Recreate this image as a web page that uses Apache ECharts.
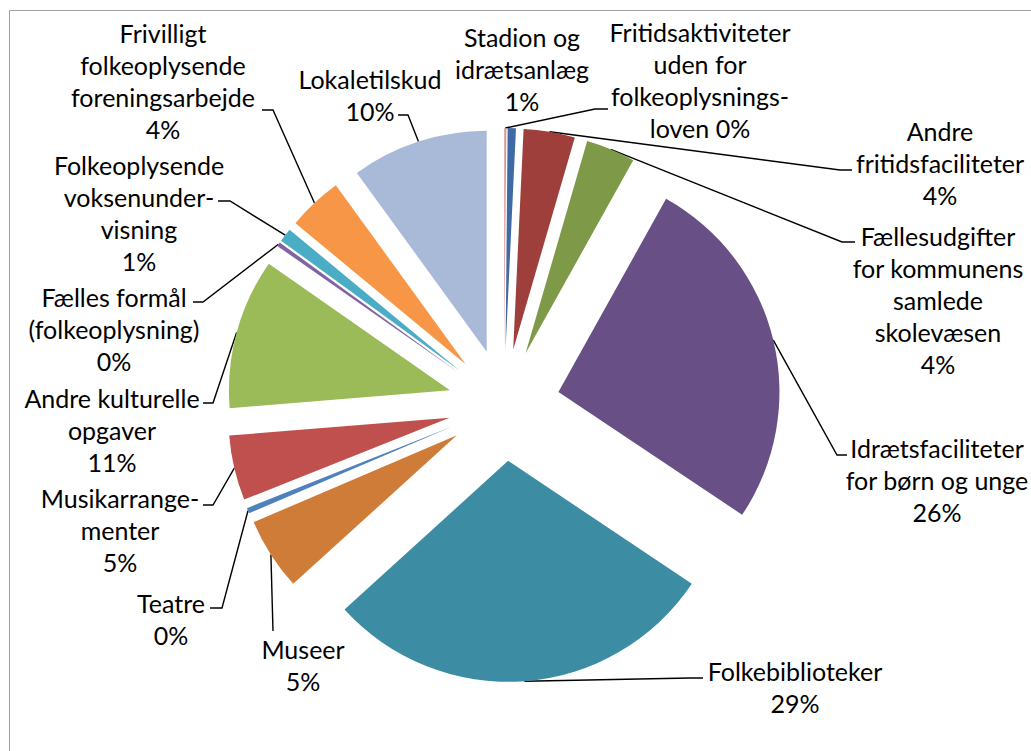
<!DOCTYPE html>
<html>
<head>
<meta charset="utf-8">
<title>Fordeling af udgifter</title>
<script src="https://cdn.jsdelivr.net/npm/echarts@6/dist/echarts.min.js"></script>
<style>
  html, body { margin: 0; padding: 0; background: #fff; }
  #chart { width: 1031px; height: 751px; }
</style>
</head>
<body>
<div id="chart"></div>
<script>
// kategorier i urets retning fra kl. 12
const categories = [
  'Fritidsaktiviteter uden for folkeoplysningsloven',
  'Stadion og idrætsanlæg',
  'Andre fritidsfaciliteter',
  'Fællesudgifter for kommunens samlede skolevæsen',
  'Idrætsfaciliteter for børn og unge',
  'Folkebiblioteker',
  'Museer',
  'Teatre',
  'Musikarrangementer',
  'Andre kulturelle opgaver',
  'Fælles formål (folkeoplysning)',
  'Folkeoplysende voksenundervisning',
  'Frivilligt folkeoplysende foreningsarbejde',
  'Lokaletilskud'
];
// andel i procent, aflæst af figuren
const values = [0.15, 0.6, 3.75, 3.6, 26.3, 28.9, 5.3, 0.4, 4.75, 11.0, 0.3, 1.0, 4.0, 10.0];
// etiketter med linjeskift som i originalen, {p} = procent
const labelTexts = [
  'Fritidsaktiviteter\nuden for\nfolkeoplysnings-\nloven {p}',
  'Stadion og\nidrætsanlæg\n{p}',
  'Andre\nfritidsfaciliteter\n{p}',
  'Fællesudgifter\nfor kommunens\nsamlede\nskolevæsen\n{p}',
  'Idrætsfaciliteter\nfor børn og unge\n{p}',
  'Folkebiblioteker\n{p}',
  'Museer\n{p}',
  'Teatre\n{p}',
  'Musikarrange-\nmenter\n{p}',
  'Andre kulturelle\nopgaver\n{p}',
  'Fælles formål\n(folkeoplysning)\n{p}',
  'Folkeoplysende\nvoksenunder-\nvisning\n{p}',
  'Frivilligt\nfolkeoplysende\nforeningsarbejde\n{p}',
  'Lokaletilskud\n{p}'
];
const colors = [
  '#D99694', '#3F6AA3', '#9E3F3C', '#7E9A48', '#684F86', '#3C8DA4', '#CF7C38',
  '#4F81BD', '#C0504D', '#9BBB59', '#8064A2', '#4BACC6', '#F79646', '#A9B9D8'
];

// layout
const CX = 504, CY = 405, R = 221, EXPLODE = 56;
const FONT = 'Lato';
// etiketternes midte (x) og første linjes midte (y)
const labelPos = [
  [700, 32], [522, 37], [940, 131], [938, 236], [937, 448], [795, 671], [303, 649],
  [171, 603], [120, 498], [112, 398], [114, 297], [139, 165], [163, 33], [370, 79]
];
// knæk og endepunkt for ledelinjer (null = ingen linje)
const leaders = [
  [595, 109, 608, 109], null, [840, 170, 852, 170], [842, 242, 855, 242],
  [837, 455, 847, 455], [690, 678, 703, 678], [273, 631, 273, 631],
  [222, 608, 210, 608], [213, 505, 203, 505], [213, 403, 203, 403],
  [203, 302, 193, 302], [230, 201, 218, 201], [273, 110, 262, 110], [408, 115, 398, 115]
];

const total = values.reduce((a, b) => a + b, 0);
let acc = 0;
const midAngles = values.map(v => {
  const m = (acc + v / 2) / total * Math.PI * 2;
  acc += v;
  return m;
});
// punkt på den udtrukne skives bue, midt i skiven
function anchor(i) {
  const m = midAngles[i];
  return [CX + (R + EXPLODE) * Math.sin(m), CY - (R + EXPLODE) * Math.cos(m)];
}

const chart = echarts.init(document.getElementById('chart'), null, { renderer: 'svg' });

const option = {
  animation: false,
  backgroundColor: '#fff',
  graphic: [{
    type: 'rect',
    silent: true,
    shape: { x: 9.5, y: 10.5, width: 1200, height: 1000 },
    style: { fill: 'none', stroke: '#a0a0a0', lineWidth: 1 }
  }],
  series: [
    {
      // skiverne, alle trukket ud
      type: 'pie',
      center: [CX, CY],
      radius: R,
      startAngle: 90,
      clockwise: true,
      selectedMode: 'multiple',
      selectedOffset: EXPLODE,
      label: { show: false },
      labelLine: { show: false },
      emphasis: { disabled: true },
      itemStyle: { borderWidth: 0 },
      select: { itemStyle: { borderWidth: 0 } },
      data: values.map((v, i) => ({
        name: categories[i],
        value: v,
        selected: true,
        itemStyle: { color: colors[i] }
      }))
    },
    {
      // usynlig kopi som bærer etiketter og ledelinjer
      type: 'pie',
      center: [CX, CY],
      radius: R,
      startAngle: 90,
      clockwise: true,
      silent: true,
      avoidLabelOverlap: false,
      itemStyle: { color: 'rgba(0,0,0,0)', borderWidth: 0 },
      emphasis: { disabled: true },
      label: {
        show: true,
        position: 'outer',
        color: '#000',
        fontFamily: FONT,
        fontSize: 25,
        lineHeight: 32,
        formatter: p => labelTexts[p.dataIndex].replace('{p}', Math.round(p.value / total * 100) + '%')
      },
      labelLine: { show: true, lineStyle: { color: '#000', width: 1.4 } },
      labelLayout: function (params) {
        const i = params.dataIndex;
        const lp = labelPos[i];
        const out = { x: lp[0], y: lp[1] - 16, align: 'center', verticalAlign: 'top' };
        const ld = leaders[i];
        if (ld) {
          out.labelLinePoints = [anchor(i), [ld[0], ld[1]], [ld[2], ld[3]]];
        }
        return out;
      },
      data: values.map((v, i) => ({
        name: categories[i],
        value: v,
        labelLine: { show: leaders[i] !== null }
      }))
    }
  ]
};

chart.setOption(option);
window.addEventListener('resize', () => chart.resize());
</script>
</body>
</html>
